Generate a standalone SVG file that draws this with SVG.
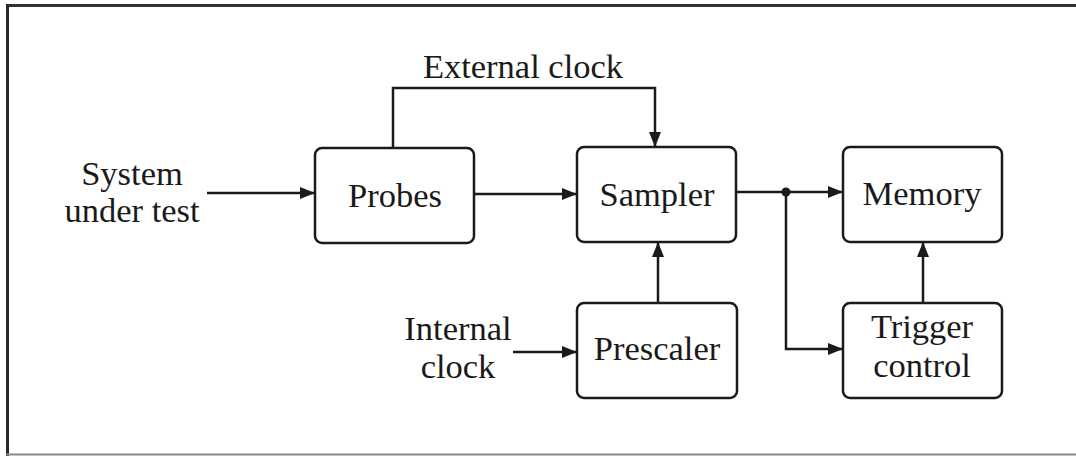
<svg xmlns="http://www.w3.org/2000/svg" width="1076" height="456" viewBox="0 0 1076 456">
<style>
.box{fill:#fff;stroke:#1a1a1a;stroke-width:2.5}
.ln{fill:none;stroke:#1a1a1a;stroke-width:2.5}
text{font-family:"Liberation Serif","Times New Roman",serif;font-size:34.5px;fill:#1a1a1a;text-anchor:middle}
</style>
<defs>
<marker id="ah" markerWidth="15" markerHeight="12" refX="15" refY="6" orient="auto" markerUnits="userSpaceOnUse">
<path d="M0,0 L15,6 L0,12 Z" fill="#1a1a1a"/>
</marker>
</defs>
<rect width="1076" height="456" fill="#fff"/>
<g id="frame">
<line x1="6" y1="5.5" x2="1076" y2="5.5" stroke="#333" stroke-width="3"/>
<line x1="7.5" y1="4" x2="7.5" y2="456" stroke="#2a2a2a" stroke-width="3"/>
<line x1="6" y1="454.5" x2="1076" y2="454.5" stroke="#888" stroke-width="2"/>
</g>
<g id="connectors">
<line class="ln" x1="207" y1="193" x2="315" y2="193" marker-end="url(#ah)"/>
<line class="ln" x1="474" y1="194" x2="577" y2="194" marker-end="url(#ah)"/>
<polyline class="ln" points="393,148 393,88 655,88 655,147" marker-end="url(#ah)"/>
<line class="ln" x1="658" y1="303" x2="658" y2="242" marker-end="url(#ah)"/>
<line class="ln" x1="513" y1="352" x2="577" y2="352" marker-end="url(#ah)"/>
<line class="ln" x1="736" y1="192" x2="843" y2="192" marker-end="url(#ah)"/>
<polyline class="ln" points="786,192 786,349 843,349" marker-end="url(#ah)"/>
<line class="ln" x1="923" y1="303" x2="923" y2="242" marker-end="url(#ah)"/>
<circle cx="786" cy="192" r="4.5" fill="#1a1a1a"/>
</g>
<g id="labels">
<text x="523" y="78">External clock</text>
<text x="132" y="185">System</text>
<text x="132" y="222">under test</text>
<text x="458" y="340">Internal</text>
<text x="458" y="378">clock</text>
</g>
<g id="probes">
<rect class="box" x="315" y="148" width="159" height="95" rx="7"/>
<text x="395" y="207">Probes</text>
</g>
<g id="sampler">
<rect class="box" x="577" y="147" width="159" height="95" rx="7"/>
<text x="657" y="206">Sampler</text>
</g>
<g id="memory">
<rect class="box" x="843" y="147" width="159" height="95" rx="7"/>
<text x="922" y="205">Memory</text>
</g>
<g id="prescaler">
<rect class="box" x="577" y="303" width="160" height="95" rx="7"/>
<text x="657" y="360">Prescaler</text>
</g>
<g id="trigger">
<rect class="box" x="843" y="303" width="159" height="95" rx="7"/>
<text x="922" y="338">Trigger</text>
<text x="922" y="377">control</text>
</g>
</svg>
